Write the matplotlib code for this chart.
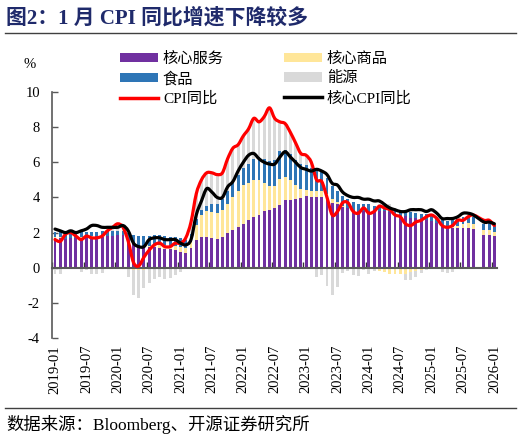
import numpy as np
import matplotlib
matplotlib.use("Agg")
import matplotlib.pyplot as plt
from matplotlib.path import Path
from matplotlib.patches import PathPatch, Patch
from matplotlib.lines import Line2D

nan = np.nan

# ---------------- data ----------------
months = [f"{y}-{m:02d}" for y in range(2019, 2026) for m in range(1, 13)] + ["2026-01"]

# contributions (pct pts)
core_services = [
    1.70, 1.68, 1.66, 1.70, 1.68, 1.70, 1.72, 1.75, 1.78, 1.76, 1.78, 1.80,
    1.85, 1.85, 1.65, 1.40, 1.28, 1.20, 1.20, 1.18, 1.12, 1.08, 1.05, 1.00,
    0.90, 0.82, 1.10, 1.55, 1.75, 1.75, 1.67, 1.65, 1.75, 1.95, 2.15, 2.34,
    2.50, 2.70, 2.87, 3.00, 3.20, 3.30, 3.40, 3.57, 3.85, 3.85, 3.90, 3.95,
    4.10, 4.05, 4.05, 4.00, 3.90, 3.70, 3.60, 3.45, 3.40, 3.30, 3.25, 3.20,
    3.25, 3.20, 3.20, 3.20, 3.15, 3.05, 2.95, 2.95, 2.85, 2.85, 2.75, 2.70,
    2.65, 2.55, 2.30, 2.25, 2.25, 2.25, 2.25, 2.25, 2.20, nan, 1.85, 1.85,
    1.80]
core_goods = [
    0.05, 0.05, 0.00, -0.02, 0.00, 0.05, 0.08, 0.05, 0.02, 0.03, 0.02, 0.02,
    -0.02, -0.03, -0.05, -0.12, -0.15, -0.12, 0.05, 0.12, 0.20, 0.20, 0.20, 0.22,
    0.28, 0.28, 0.35, 0.90, 1.25, 1.45, 1.50, 1.45, 1.55, 1.70, 1.90, 2.05,
    2.20, 2.10, 2.10, 2.00, 1.60, 1.35, 1.25, 1.50, 1.30, 1.15, 0.80, 0.55,
    0.35, 0.30, 0.30, 0.35, 0.30, 0.20, 0.12, 0.05, 0.00, -0.02, 0.00, 0.03,
    -0.06, -0.06, -0.18, -0.27, -0.36, -0.38, -0.38, -0.38, -0.24, -0.20, -0.12, -0.10,
    -0.02, -0.02, -0.02, 0.02, 0.06, 0.14, 0.22, 0.28, 0.28, nan, 0.28, 0.28,
    0.22]
food = [
    0.26, 0.28, 0.28, 0.27, 0.27, 0.28, 0.26, 0.25, 0.25, 0.28, 0.28, 0.25,
    0.25, 0.26, 0.30, 0.48, 0.55, 0.62, 0.56, 0.56, 0.54, 0.53, 0.51, 0.53,
    0.52, 0.49, 0.48, 0.33, 0.30, 0.33, 0.46, 0.50, 0.62, 0.72, 0.83, 0.86,
    0.95, 1.08, 1.20, 1.28, 1.38, 1.42, 1.50, 1.55, 1.53, 1.50, 1.45, 1.42,
    1.40, 1.32, 1.18, 1.08, 0.92, 0.75, 0.66, 0.58, 0.50, 0.45, 0.40, 0.37,
    0.35, 0.30, 0.30, 0.30, 0.29, 0.30, 0.30, 0.29, 0.31, 0.29, 0.33, 0.34,
    0.34, 0.35, 0.41, 0.38, 0.40, 0.41, 0.40, 0.44, 0.42, nan, 0.36, 0.42,
    0.40]
energy = [
    -0.36, -0.36, -0.03, 0.13, -0.04, -0.27, -0.14, -0.33, -0.36, -0.31, -0.05, 0.25,
    0.44, 0.20, -0.45, -1.43, -1.55, -1.06, -0.85, -0.62, -0.52, -0.65, -0.60, -0.42,
    -0.25, 0.12, 0.70, 1.45, 1.70, 1.85, 1.75, 1.70, 1.50, 1.85, 1.95, 1.75,
    1.85, 2.00, 2.35, 2.00, 2.40, 3.00, 2.35, 1.70, 1.50, 1.20, 0.95, 0.60,
    0.50, 0.30, -0.53, -0.40, -1.02, -1.55, -1.08, -0.28, -0.20, -0.40, -0.45, -0.13,
    -0.32, -0.14, 0.14, 0.18, 0.20, 0.05, 0.05, -0.32, -0.46, -0.35, -0.20, -0.03,
    0.06, -0.05, -0.24, -0.30, -0.26, -0.05, -0.10, 0.02, 0.18, nan, 0.27, 0.15,
    -0.02]
cpi_yoy = [
    1.6, 1.5, 1.9, 2.0, 1.8, 1.6, 1.8, 1.7, 1.7, 1.8, 2.1, 2.3,
    2.5, 2.3, 1.5, 0.3, 0.1, 0.6, 1.0, 1.3, 1.4, 1.2, 1.2, 1.4,
    1.4, 1.7, 2.6, 4.2, 5.0, 5.4, 5.4, 5.3, 5.4, 6.2, 6.8, 7.0,
    7.5, 7.9, 8.5, 8.3, 8.6, 9.1, 8.5, 8.3, 8.2, 7.7, 7.1, 6.5,
    6.4, 6.0, 5.0, 4.9, 4.0, 3.0, 3.2, 3.7, 3.7, 3.2, 3.1, 3.4,
    3.1, 3.2, 3.5, 3.4, 3.3, 3.0, 2.9, 2.5, 2.4, 2.6, 2.7, 2.9,
    3.0, 2.8, 2.4, 2.3, 2.4, 2.7, 2.7, 2.9, 3.0, nan, 2.7, 2.7,
    2.4]
core_cpi_yoy = [
    2.2, 2.1, 2.0, 2.1, 2.0, 2.1, 2.2, 2.4, 2.4, 2.3, 2.3, 2.3,
    2.3, 2.4, 2.1, 1.4, 1.2, 1.2, 1.6, 1.7, 1.7, 1.6, 1.6, 1.6,
    1.4, 1.3, 1.6, 3.0, 3.8, 4.5, 4.3, 4.0, 4.0, 4.6, 4.9, 5.5,
    6.0, 6.4, 6.5, 6.2, 6.0, 5.9, 5.9, 6.3, 6.6, 6.3, 6.0, 5.7,
    5.6, 5.5, 5.6, 5.5, 5.3, 4.8, 4.7, 4.3, 4.1, 4.0, 4.0, 3.9,
    3.9, 3.8, 3.8, 3.6, 3.4, 3.3, 3.2, 3.2, 3.3, 3.3, 3.3, 3.2,
    3.3, 3.1, 2.8, 2.8, 2.8, 2.9, 3.1, 3.1, 3.0, nan, 2.6, 2.6,
    2.5]

bar_names = ["核心服务", "核心商品", "食品", "能源"]
bar_colors = ["#7030A0", "#FFE699", "#2E75B6", "#D9D9D9"]
line_names = ["CPI同比", "核心CPI同比"]
line_colors = ["#FF0000", "#000000"]

# ---------------- figure ----------------
FONT = ["Liberation Serif", "Noto Sans CJK SC", "DejaVu Sans"]
plt.rcParams["font.family"] = FONT
plt.rcParams["axes.unicode_minus"] = False

fig = plt.figure(figsize=(5.22, 4.41), dpi=100)
ax = fig.add_axes([52.4 / 522, 1 - 338 / 441, (497 - 52.4) / 522, (338 - 92) / 441])

x = np.arange(len(months))
series = [core_services, core_goods, food, energy]
pos_base = np.zeros(len(x))
neg_base = np.zeros(len(x))
for vals, col in zip(series, bar_colors):
    v = np.nan_to_num(np.array(vals, dtype=float))
    pos = np.where(v > 0, v, 0)
    neg = np.where(v < 0, v, 0)
    ax.bar(x, pos, bottom=pos_base, width=0.55, color=col, linewidth=0, zorder=2)
    ax.bar(x, neg, bottom=neg_base, width=0.55, color=col, linewidth=0, zorder=2)
    pos_base += pos
    neg_base += neg


def smooth_path(xs, ys):
    xs = np.asarray(xs, float)
    ys = np.asarray(ys, float)
    m = ~np.isnan(ys)
    xs, ys = xs[m], ys[m]
    P = np.column_stack([xs, ys])
    n = len(P)
    verts = [P[0]]
    codes = [Path.MOVETO]
    for i in range(n - 1):
        p0 = P[i - 1] if i > 0 else P[i]
        p1 = P[i]
        p2 = P[i + 1]
        p3 = P[i + 2] if i + 2 < n else P[i + 1]
        c1 = p1 + (p2 - p0) / 6.0
        c2 = p2 - (p3 - p1) / 6.0
        verts += [c1, c2, p2]
        codes += [Path.CURVE4] * 3
    return Path(verts, codes)


for vals, col in zip([cpi_yoy, core_cpi_yoy], line_colors):
    patch = PathPatch(smooth_path(x, vals), facecolor="none", edgecolor=col,
                      linewidth=2.3, capstyle="round", joinstyle="round", zorder=4)
    ax.add_patch(patch)

ax.set_xlim(-0.5, len(months) - 0.5)
ax.set_ylim(-4, 10)
ax.set_yticks(range(-4, 11, 2))
ax.tick_params(axis="y", direction="in", length=4, width=1, color="#595959",
               labelsize=10.5, pad=9)
for s in ["top", "right"]:
    ax.spines[s].set_visible(False)
ax.spines["left"].set_color("#595959")
ax.spines["left"].set_linewidth(1.2)
ax.spines["bottom"].set_position(("data", 0))
ax.spines["bottom"].set_color("#595959")
ax.spines["bottom"].set_linewidth(1.5)
ax.spines["bottom"].set_zorder(3)
ax.set_xticks(np.arange(-0.5, len(months), 6))
ax.tick_params(axis="x", direction="in", length=4, width=1, color="#333333",
               labelbottom=False)

sec = ax.secondary_xaxis("bottom")
sec.set_xticks(range(0, len(months), 6), [months[i] for i in range(0, len(months), 6)])
sec.tick_params(axis="x", length=0, rotation=90, labelsize=10.5, pad=5)
sec.spines["bottom"].set_visible(False)

# legend
handles = [
    Patch(facecolor=bar_colors[0], edgecolor="none"),
    Patch(facecolor=bar_colors[2], edgecolor="none"),
    Line2D([], [], color=line_colors[0], lw=2.5),
    Patch(facecolor=bar_colors[1], edgecolor="none"),
    Patch(facecolor=bar_colors[3], edgecolor="none"),
    Line2D([], [], color=line_colors[1], lw=2.5),
]
labels = [bar_names[0], bar_names[2], line_names[0],
          bar_names[1], bar_names[3], line_names[1]]
fig.legend(handles, labels, ncol=2, loc="upper left",
           bbox_to_anchor=(109 / 522, 1 - 41 / 441), frameon=False,
           handlelength=2.5, handleheight=0.55, handletextpad=0.33,
           columnspacing=3.9, labelspacing=0.36, borderpad=0.2,
           prop={"family": FONT, "size": 11})

fig.text(30 / 522, 1 - 64 / 441, "%", fontsize=10.5, ha="center", va="center")

# title & source
fig.text(6 / 522, 1 - 18 / 441, "图2：1 月 CPI 同比增速下降较多", fontsize=15,
         fontweight="bold", color="#1F2A6B", ha="left", va="center")
fig.add_artist(Line2D([5 / 522, 516 / 522], [1 - 33 / 441, 1 - 33 / 441],
                      transform=fig.transFigure, color="#404040", lw=1))
fig.add_artist(Line2D([5 / 522, 516 / 522], [1 - 408 / 441, 1 - 408 / 441],
                      transform=fig.transFigure, color="#404040", lw=1))
fig.text(6 / 522, 1 - 425 / 441, "数据来源：Bloomberg、开源证券研究所", fontsize=12.5,
         ha="left", va="center")

fig.savefig("out.png", dpi=100)
